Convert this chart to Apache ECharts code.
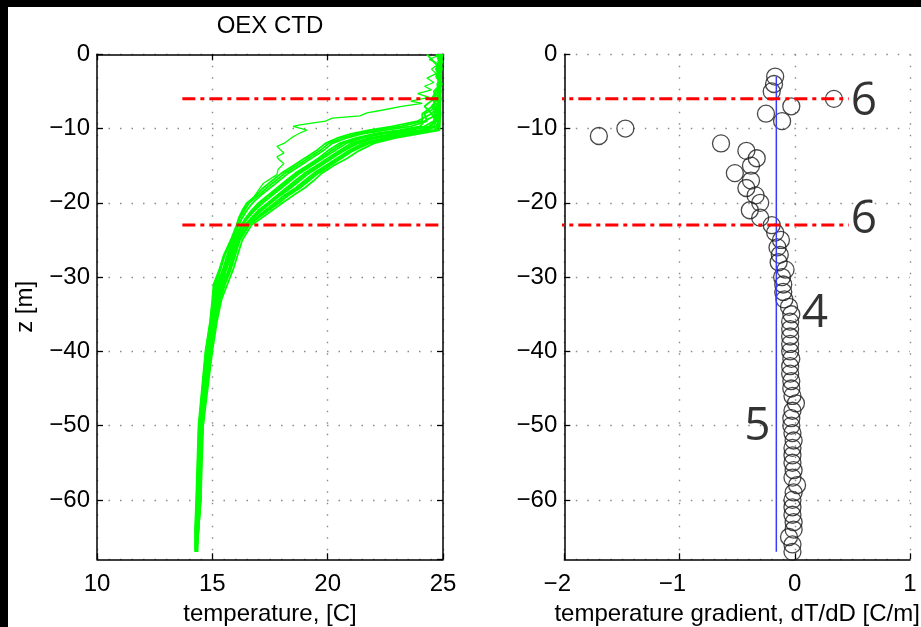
<!DOCTYPE html>
<html><head><meta charset="utf-8">
<script src="https://cdn.jsdelivr.net/npm/echarts@6/dist/echarts.min.js"></script>
<style>
html,body{margin:0;padding:0;background:#000;width:921px;height:627px;overflow:hidden}
#c{position:absolute;left:8px;top:7px;width:913px;height:620px;background:#fff}
</style>
</head><body><div id="c"></div>
<script>
// ---------- DATA ----------
const depthLevels = [0, -1, -2, -3, -4, -5, -6, -7, -8, -9, -9.7, -10.2, -10.7, -11.3, -12, -13, -14, -15, -16, -17, -18, -19, -20, -21, -22, -23, -25, -27, -29, -31, -33, -36, -40, -45, -50, -55, -60, -64, -67];
const prof1  = [24.7, 24.85, 24.8, 24.9, 24.75, 24.8, 24.6, 24.2, 24.5, 23.9, 22.8, 21.8, 21.0, 20.4, 19.9, 19.5, 19.0, 18.5, 18.0, 17.6, 17.2, 16.9, 16.5, 16.3, 16.15, 16.05, 15.8, 15.5, 15.3, 15.05, 15.0, 14.9, 14.7, 14.55, 14.4, 14.35, 14.3, 14.25, 14.25];
const prof2  = [24.95, 24.9, 24.85, 24.8, 24.9, 24.7, 24.5, 24.8, 24.2, 24.3, 23.6, 22.5, 21.5, 20.8, 20.2, 19.8, 19.3, 18.8, 18.3, 17.9, 17.5, 17.1, 16.75, 16.5, 16.3, 16.15, 15.85, 15.55, 15.35, 15.15, 15.05, 14.95, 14.75, 14.6, 14.45, 14.4, 14.35, 14.3, 14.3];
const prof3  = [24.3, 24.6, 24.9, 24.85, 24.8, 24.9, 24.7, 24.6, 24.8, 24.2, 24.0, 23.1, 22.0, 21.2, 20.5, 20.0, 19.6, 19.1, 18.6, 18.2, 17.8, 17.4, 17.0, 16.7, 16.45, 16.25, 15.9, 15.65, 15.45, 15.2, 15.1, 15.0, 14.8, 14.6, 14.45, 14.4, 14.35, 14.3, 14.3];
const prof4  = [24.9, 24.95, 24.75, 24.9, 24.85, 24.8, 24.85, 24.8, 24.5, 24.7, 24.4, 23.6, 22.4, 21.5, 20.8, 20.3, 19.8, 19.3, 18.8, 18.4, 18.0, 17.6, 17.2, 16.85, 16.55, 16.3, 15.95, 15.7, 15.5, 15.3, 15.15, 15.0, 14.8, 14.65, 14.5, 14.45, 14.4, 14.35, 14.3];
const prof5  = [25.0, 24.9, 24.95, 24.85, 24.9, 24.85, 24.8, 24.5, 24.75, 24.6, 24.5, 24.0, 22.8, 21.8, 21.0, 20.5, 20.0, 19.5, 19.0, 18.6, 18.2, 17.8, 17.4, 17.0, 16.7, 16.4, 16.0, 15.75, 15.55, 15.35, 15.2, 15.05, 14.85, 14.7, 14.5, 14.45, 14.4, 14.35, 14.3];
const prof6  = [24.85, 24.8, 24.9, 24.75, 24.85, 24.9, 24.75, 24.85, 24.6, 24.8, 24.7, 24.3, 23.1, 22.1, 21.3, 20.7, 20.2, 19.7, 19.2, 18.8, 18.4, 17.95, 17.55, 17.15, 16.8, 16.45, 16.05, 15.85, 15.6, 15.4, 15.25, 15.1, 14.9, 14.7, 14.55, 14.5, 14.45, 14.35, 14.35];
const prof7  = [24.75, 24.9, 24.7, 24.9, 24.8, 24.75, 24.85, 24.7, 24.8, 24.75, 24.8, 24.6, 23.4, 22.4, 21.5, 20.9, 20.4, 19.9, 19.4, 19.0, 18.6, 18.1, 17.7, 17.3, 16.9, 16.55, 16.1, 15.9, 15.7, 15.45, 15.3, 15.1, 14.9, 14.75, 14.55, 14.5, 14.45, 14.4, 14.3];
const prof8  = [24.95, 24.85, 24.9, 24.85, 24.9, 24.85, 24.9, 24.85, 24.9, 24.85, 24.8, 24.75, 23.7, 22.7, 21.8, 21.1, 20.6, 20.1, 19.6, 19.2, 18.8, 18.3, 17.9, 17.45, 17.0, 16.6, 16.2, 16.0, 15.8, 15.55, 15.35, 15.15, 14.95, 14.75, 14.6, 14.5, 14.5, 14.4, 14.35];
const prof9  = [24.9, 24.95, 24.9, 24.92, 24.9, 24.9, 24.88, 24.88, 24.87, 24.87, 24.86, 24.85, 23.95, 22.9, 22.0, 21.35, 20.85, 20.25, 19.75, 19.4, 19.0, 18.5, 18.05, 17.6, 17.15, 16.7, 16.3, 16.1, 15.9, 15.65, 15.4, 15.2, 15.0, 14.8, 14.6, 14.55, 14.5, 14.4, 14.3];
const prof10 = [24.9, 24.8, 24.7, 24.85, 24.9, 24.6, 24.7, 24.55, 24.1, 24.1, 23.2, 22.1, 21.25, 20.6, 20.05, 19.65, 19.15, 18.65, 18.15, 17.75, 17.35, 17.0, 16.6, 16.4, 16.2, 16.1, 15.82, 15.52, 15.32, 15.1, 15.02, 14.92, 14.72, 14.57, 14.42, 14.37, 14.32, 14.27, 14.28];
const prof11 = [24.85, 24.9, 24.8, 24.7, 24.9, 24.85, 24.9, 24.75, 24.7, 24.6, 24.2, 23.35, 22.2, 21.35, 20.65, 20.15, 19.7, 19.2, 18.7, 18.3, 17.9, 17.5, 17.1, 16.78, 16.5, 16.28, 15.92, 15.68, 15.48, 15.25, 15.12, 15.0, 14.8, 14.62, 14.48, 14.42, 14.38, 14.32, 14.3];
const prof12 = [24.9, 24.85, 24.8, 24.9, 24.8, 24.9, 24.85, 24.7, 24.85, 24.7, 24.6, 24.15, 22.95, 21.95, 21.15, 20.6, 20.1, 19.6, 19.1, 18.7, 18.3, 17.88, 17.48, 17.08, 16.75, 16.42, 16.02, 15.8, 15.58, 15.38, 15.22, 15.08, 14.88, 14.7, 14.52, 14.48, 14.42, 14.35, 14.32];
const prof13 = [24.8, 24.95, 24.85, 24.8, 24.95, 24.8, 24.9, 24.8, 24.85, 24.8, 24.82, 24.7, 23.55, 22.55, 21.65, 21.0, 20.5, 20.0, 19.5, 19.1, 18.7, 18.2, 17.8, 17.38, 16.95, 16.58, 16.15, 15.95, 15.75, 15.5, 15.32, 15.12, 14.92, 14.75, 14.58, 14.5, 14.48, 14.4, 14.32];
const profiles = [prof1, prof10, prof2, prof3, prof11, prof4, prof5, prof12, prof6, prof7, prof13, prof8, prof9];

const outlierDepth = [0, -0.7, -1.3, -2, -2.6, -3.2, -3.8, -4.3, -4.8, -5.3, -5.8, -6.3, -6.6, -7, -7.5, -7.9, -8.3, -8.6, -9, -9.5, -9.7, -10.2, -10.6, -11.1, -12, -12.4, -13.3, -13.8, -14.2, -14.7, -15.5, -16.2, -17.4, -19.2, -21, -22.5];
const outlierTemp  = [24.9, 24.4, 24.8, 24.5, 24.7, 24.3, 24.6, 24.2, 24.5, 23.9, 24.4, 23.6, 24.1, 23.2, 22.4, 21.7, 21.4, 20.2, 19.9, 18.8, 18.5, 19.1, 18.8, 18.5, 18.1, 17.8, 18.1, 17.8, 17.9, 18.1, 17.85, 17.8, 17.2, 16.8, 16.35, 16.1];

const gradDepth = [-3, -4, -5, -6, -7, -8, -9, -10, -11, -12, -13, -14, -15, -16, -17, -18, -19, -20, -21, -22, -23, -24, -25, -26, -27, -28, -29, -30, -31, -32, -33, -34, -35, -36, -37, -38, -39, -40, -41, -42, -43, -44, -45, -46, -47, -48, -49, -50, -51, -52, -53, -54, -55, -56, -57, -58, -59, -60, -61, -62, -63, -64, -65, -66, -67];
const gradValues = [-0.17, -0.18, -0.20, 0.34, -0.03, -0.25, -0.11, -1.47, -1.70, -0.64, -0.42, -0.33, -0.38, -0.52, -0.38, -0.42, -0.34, -0.30, -0.39, -0.30, -0.20, -0.17, -0.12, -0.15, -0.13, -0.14, -0.08, -0.11, -0.10, -0.10, -0.09, -0.05, -0.03, -0.04, -0.04, -0.04, -0.04, -0.04, -0.03, -0.04, -0.04, -0.03, -0.03, -0.02, 0.01, -0.02, -0.03, -0.03, -0.02, -0.01, -0.02, -0.02, -0.02, -0.01, -0.02, 0.02, -0.01, -0.02, -0.02, -0.02, -0.01, -0.01, -0.05, -0.02, -0.02];

const meanGradient = -0.16;
const meanGradientDepthRange = [-3, -67];
const layerDepths = [-6, -23];
const layerLineTemp = [13.7, 25];       // left panel span (temperature units)
const layerLineGrad = [-3.05, 0.47];    // right panel span incl. gap (gradient units)
const annotText  = ['6', '6', '4', '5'];
const annotGrad  = [0.6, 0.6, 0.175, -0.325];
const annotDepth = [-6.4, -22.3, -34.9, -50.2];

const tempTicks = {min: 10, max: 25, interval: 5};
const gradTicks = {min: -2, max: 1, interval: 1};
const depthRange = {min: -68, max: 0};

// ---------- STYLE ----------
const FONT = 'Liberation Sans, Arial, Helvetica, sans-serif';
const fmt = v => v < 0 ? '\u2212' + Math.abs(v) : String(v);
const tickStyle = {show: true, inside: true, length: 6, lineStyle: {color: '#000', width: 1.3}};
const lineAx = {show: true, onZero: false, lineStyle: {color: '#000', width: 1.5}};
const split = {show: true, lineStyle: {color: '#8a8a8a', width: 1.4, type: [1.5, 10]}};
const lbl = {fontFamily: FONT, fontSize: 24, color: '#000'};
const nameStyle = {fontFamily: FONT, fontSize: 24, color: '#000'};

const chart = echarts.init(document.getElementById('c'), null, {renderer: 'canvas'});

const series = [];
profiles.forEach(p => {
  series.push({type: 'line', xAxisIndex: 0, yAxisIndex: 0, showSymbol: false, symbol: 'none',
    lineStyle: {color: '#00ff00', width: 1.8}, data: p.map((t, i) => [t, depthLevels[i]]), z: 3});
});
series.push({type: 'line', xAxisIndex: 0, yAxisIndex: 0, showSymbol: false, symbol: 'none',
  lineStyle: {color: '#00ff00', width: 1.3}, data: outlierTemp.map((t, i) => [t, outlierDepth[i]]), z: 3});

layerDepths.forEach(d => {
  series.push({type: 'line', xAxisIndex: 0, yAxisIndex: 0, symbol: 'none',
    lineStyle: {color: '#ff0000', width: 3, type: [13, 5, 4, 5], cap: 'butt'},
    data: [[layerLineTemp[0], d], [layerLineTemp[1], d]], z: 5});
  series.push({type: 'line', xAxisIndex: 1, yAxisIndex: 1, clip: false, symbol: 'none',
    lineStyle: {color: '#ff0000', width: 3, type: [13, 5, 4, 5], cap: 'butt'},
    data: [[layerLineGrad[0], d], [layerLineGrad[1], d]], z: 5});
});

series.push({type: 'line', xAxisIndex: 1, yAxisIndex: 1, symbol: 'none',
  lineStyle: {color: '#3a3aff', width: 1.5},
  data: [[meanGradient, meanGradientDepthRange[0]], [meanGradient, meanGradientDepthRange[1]]], z: 4});

series.push({type: 'scatter', xAxisIndex: 1, yAxisIndex: 1, symbol: 'circle', symbolSize: 17,
  itemStyle: {color: 'rgba(0,0,0,0)', borderColor: '#1c1c1c', borderWidth: 1.3},
  data: gradValues.map((g, i) => [g, gradDepth[i]]), z: 3});

series.push({type: 'scatter', xAxisIndex: 1, yAxisIndex: 1, symbol: 'circle', symbolSize: 1,
  itemStyle: {color: 'rgba(0,0,0,0)'}, silent: true,
  label: {show: true, position: 'inside', formatter: p => p.data[2],
    fontFamily: 'Open Sans, Lato, sans-serif', fontSize: 46, color: '#000'},
  data: annotText.map((t, i) => [annotGrad[i], annotDepth[i], t]), z: 6});

const gridTop = 47.3, gridH = 505;
const option = {
  animation: false,
  backgroundColor: '#fff',
  grid: [
    {left: 89, top: gridTop, width: 346, height: gridH, containLabel: false, outerBoundsMode: 'none'},
    {left: 556.3, top: gridTop, width: 345.7, height: gridH, containLabel: false, outerBoundsMode: 'none'}
  ],
  xAxis: [
    {type: 'value', gridIndex: 0, position: 'bottom', min: tempTicks.min, max: tempTicks.max, interval: tempTicks.interval,
      axisLine: lineAx, axisTick: tickStyle, splitLine: split,
      axisLabel: Object.assign({margin: 13, formatter: fmt}, lbl),
      name: 'temperature, [C]', nameLocation: 'middle', nameGap: 43, nameTextStyle: nameStyle},
    {type: 'value', gridIndex: 1, position: 'bottom', min: gradTicks.min, max: gradTicks.max, interval: gradTicks.interval,
      axisLine: lineAx, axisTick: tickStyle, splitLine: split,
      axisLabel: {margin: 13, fontFamily: FONT, fontSize: 24, color: '#000',
        formatter: v => v < 0 ? '{n|\u2212' + Math.abs(v) + '}{p| }' : '{n|' + v + '}',
        rich: {n: {fontFamily: FONT, fontSize: 24, color: '#000'}, p: {width: 14, fontSize: 24}}},
      name: 'temperature gradient, dT/dD [C/m]', nameLocation: 'middle', nameGap: 43, nameTextStyle: nameStyle},
    {type: 'value', gridIndex: 0, position: 'top', min: tempTicks.min, max: tempTicks.max, interval: tempTicks.interval,
      axisLine: lineAx, axisTick: tickStyle, splitLine: {show: false}, axisLabel: {show: false},
      name: 'OEX CTD', nameLocation: 'middle', nameGap: 16, nameTextStyle: nameStyle}
  ],
  yAxis: [
    {type: 'value', gridIndex: 0, position: 'left', min: depthRange.min, max: depthRange.max, splitNumber: 7,
      axisLine: lineAx, axisTick: tickStyle, splitLine: split,
      axisLabel: Object.assign({margin: 7, formatter: fmt, showMinLabel: false}, lbl),
      name: 'z [m]', nameLocation: 'middle', nameGap: 60, nameTextStyle: nameStyle},
    {type: 'value', gridIndex: 1, position: 'left', min: depthRange.min, max: depthRange.max, splitNumber: 7,
      axisLine: lineAx, axisTick: tickStyle, splitLine: split,
      axisLabel: Object.assign({margin: 7, formatter: fmt, showMinLabel: false}, lbl)},
    {type: 'value', gridIndex: 0, position: 'right', min: depthRange.min, max: depthRange.max, splitNumber: 7,
      axisLine: lineAx, axisTick: tickStyle, splitLine: {show: false}, axisLabel: {show: false}}
  ],
  series: series
};
chart.setOption(option);
</script>
</body></html>
